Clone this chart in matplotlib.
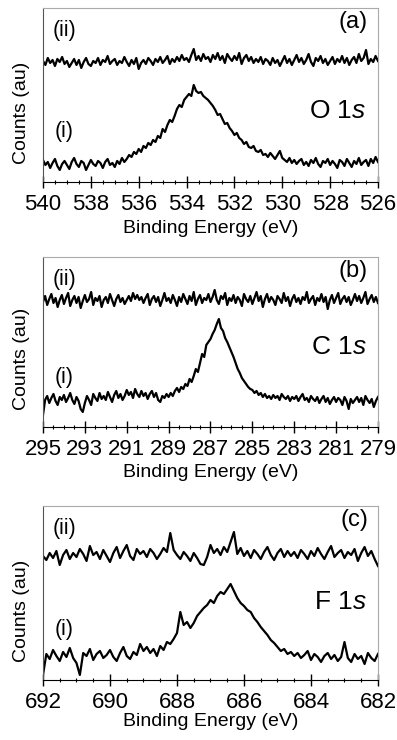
import numpy as np
import matplotlib.pyplot as plt
from matplotlib.ticker import MultipleLocator

plt.rcParams['font.family'] = ['Liberation Sans', 'DejaVu Sans']
plt.rcParams['mathtext.fontset'] = 'custom'
plt.rcParams['mathtext.rm'] = 'Liberation Sans'
plt.rcParams['mathtext.it'] = 'Liberation Sans:italic'

# ---- O 1s : 540 -> 526 eV, 0.1 eV steps (counts, arbitrary units) ----
o1s_range = (540, 526)
o1s_i = [
    22, 17, 20, 14, 19, 23, 16, 12, 18, 21,
    17, 13, 20, 24, 18, 15, 21, 19, 12, 17,
    22, 18, 16, 21, 19, 14, 20, 23, 17, 19,
    15, 21, 18, 24, 20, 23, 27, 25, 30, 28,
    33, 30, 36, 34, 39, 37, 42, 40, 46, 44,
    53, 50, 57, 62, 60, 66, 73, 77, 75, 82,
    85, 88, 86, 97, 91, 89, 90, 86, 84, 82,
    79, 76, 72, 67, 68, 63, 58, 59, 54, 51,
    47, 49, 44, 42, 38, 40, 35, 34, 36, 31,
    30, 32, 27, 28, 25, 29, 26, 23, 27, 31,
    24, 22, 20, 24, 19, 22, 18, 21, 23, 17,
    20, 16, 22, 19, 24, 18, 15, 21, 19, 23,
    17, 21, 18, 14, 22, 20, 16, 23, 19, 15,
    21, 18, 24, 17, 20, 22, 16, 23, 19, 25,
    20]
o1s_ii = [
    121, 117, 124, 119, 122, 116, 123, 120, 125, 118,
    121, 115, 119, 123, 117, 122, 114, 120, 124, 118,
    116, 121, 119, 124, 117, 122, 120, 126, 118, 121,
    123, 117, 121, 119, 125, 120, 116, 122, 118, 124,
    113, 119, 122, 118, 124, 121, 117, 123, 120, 125,
    119, 122, 126, 118, 123, 120, 125, 121, 127, 122,
    124, 120, 127, 133, 122, 126, 121, 128, 123, 125,
    120, 127, 123, 129, 122, 126, 119, 128, 124, 121,
    126, 122, 129, 118, 124, 127, 121, 125, 119, 123,
    120, 125, 118, 123, 121, 117, 124, 119, 122, 116,
    121, 126, 119, 123, 117, 122, 127, 120, 124, 118,
    122, 128, 120, 116, 124, 121, 126, 119, 123, 117,
    121, 125, 118, 123, 120, 126, 119, 124, 117, 122,
    125, 119, 128, 121, 124, 132, 118, 123, 120, 126,
    121]

# ---- C 1s : 295 -> 279 eV ----
c1s_range = (295, 279)
c1s_i = [
    12, 27, 31, 24, 29, 33, 26, 22, 30, 27,
    32, 25, 29, 34, 27, 23, 30, 26, 18, 15,
    24, 31, 27, 22, 33, 29, 26, 34, 28, 31,
    27, 35, 30, 25, 32, 36, 29, 33, 27, 31,
    37, 32, 35, 29, 38, 33, 30, 36, 31, 34,
    28, 33, 36, 30, 34, 27, 25, 31, 29, 33,
    30, 34, 31, 36, 39, 35, 40, 38, 43, 41,
    48, 45, 51, 58, 55, 64, 73, 70, 82, 85,
    88, 93, 97, 103, 108, 99, 96, 89, 85, 80,
    75, 70, 64, 58, 54, 49, 46, 43, 40, 38,
    37, 34, 36, 32, 34, 30, 33, 29, 31, 28,
    32, 29, 31, 27, 33, 30, 28, 31, 26, 30,
    28, 31, 26, 30, 33, 27, 29, 25, 31, 28,
    26, 30, 24, 28, 31, 25, 29, 23, 27, 30,
    25, 29, 27, 22, 30, 26, 18, 28, 24, 27,
    30, 25, 29, 22, 31, 27, 24, 28, 20, 26,
    30]
c1s_ii = [
    125, 131, 122, 128, 133, 124, 129, 120, 127, 132,
    123, 129, 134, 121, 127, 131, 124, 130, 119, 126,
    132, 125, 128, 135, 122, 129, 126, 131, 120, 127,
    130, 124, 133, 127, 121, 128, 132, 125, 129, 123,
    127, 131, 126, 134, 128, 132, 127, 130, 124, 129,
    133, 122, 128, 131, 125, 130, 121, 127, 134, 126,
    129, 124, 132, 127, 121, 130, 125, 133, 128, 123,
    131, 126, 135, 122, 128, 132, 124, 129, 127, 133,
    125, 130, 137, 127, 123, 131, 128, 134, 122, 129,
    126, 132, 124, 130, 127, 121, 133, 128, 125, 131,
    123, 129, 135, 126, 131, 120, 128, 133, 125, 130,
    127, 122, 131, 128, 124, 134, 126, 130, 121, 128,
    132, 125, 129, 123, 130, 127, 135, 124, 128, 131,
    122, 129, 126, 133, 125, 130, 118, 127, 132, 124,
    129, 134, 123, 128, 131, 125, 130, 122, 127, 133,
    126, 131, 124, 129, 135, 123, 128, 132, 125, 130,
    124]

# ---- F 1s : 692 -> 682 eV ----
f1s_range = (692, 682)
f1s_i = [
    5, 26, 21, 30, 24, 19, 28, 23, 32, 22,
    17, 5, 27, 24, 31, 20, 26, 29, 22, 25,
    30, 23, 19, 27, 33, 24, 21, 28, 25, 36,
    29, 33, 27, 31, 24, 34, 30, 38, 36, 41,
    47, 68, 55, 58, 52, 57, 64, 68, 72, 75,
    80, 77, 84, 88, 86, 91, 96, 89, 82, 77,
    74, 70, 68, 62, 58, 53, 49, 45, 40, 37,
    33, 29, 31, 26, 28, 24, 27, 22, 25, 29,
    20, 26, 23, 18, 24, 27, 21, 25, 19, 23,
    38, 22, 18, 26, 21, 24, 16, 27, 22, 19,
    26]
f1s_ii = [
    124, 120, 127, 122, 129, 115, 125, 130, 121, 127,
    123, 131, 126, 119, 134, 125, 128, 121, 130, 124,
    118, 127, 133, 122, 129, 135, 124, 120, 131, 126,
    129, 123, 131, 127, 121, 126, 132, 128, 147, 130,
    125, 121, 128, 124, 119, 127, 122, 116, 115, 123,
    135, 127, 131, 125, 133, 128, 138, 148, 126, 132,
    124, 129, 122, 130, 126, 121, 128, 133, 125, 120,
    127, 131, 123, 129, 124, 128, 122, 130, 126, 121,
    129, 124, 132, 126, 121, 128, 134, 123, 127, 130,
    122, 128, 125, 131, 119, 127, 133, 124, 129, 121,
    114]

panel_tags = ['(a)', '(b)', '(c)']
core_levels = ['O 1$s$', 'C 1$s$', 'F 1$s$']

fig = plt.figure(figsize=(3.97, 7.40), dpi=100)

panels = [
    # range, trace i, trace ii, tag index, [left, bottom, w, h], ymax, level y, xlabel pad
    (o1s_range, o1s_i, o1s_ii, 0, [0.1083, 0.7541, 0.8438, 0.2351], 174, 0.41, 3.0),
    (c1s_range, c1s_i, c1s_ii, 1, [0.1083, 0.4230, 0.8438, 0.2297], 170, 0.47, 2.5),
    (f1s_range, f1s_i, f1s_ii, 2, [0.1083, 0.0811, 0.8438, 0.2351], 174, 0.45, 0.0),
]

for rng, tr_i, tr_ii, k, rect, ymax, lvl_y, lpad in panels:
    ax = fig.add_axes(rect)
    energy = np.linspace(rng[0], rng[1], len(tr_i))
    ax.plot(energy, tr_i, color='black', lw=1.6)
    ax.plot(energy, tr_ii, color='black', lw=1.6)
    ax.set_xlim(rng[0], rng[1])
    ax.set_ylim(0, ymax)
    ax.set_yticks([])
    ax.set_xticks(np.arange(rng[1], rng[0] + 0.1, 2))
    ax.xaxis.set_minor_locator(MultipleLocator(0.5))
    ax.tick_params(axis='x', which='major', direction='inout', length=8,
                   width=1, labelsize=16, pad=5)
    ax.tick_params(axis='x', which='minor', direction='inout', length=3.5, width=0.8)
    ax.spines['bottom'].set_color('black')
    ax.spines['left'].set_color('#555555')
    ax.spines['top'].set_color('#aaaaaa')
    ax.spines['right'].set_color('#aaaaaa')
    ax.set_xlabel('Binding Energy (eV)', fontsize=14, labelpad=lpad)
    ax.set_ylabel('Counts (au)', fontsize=14)
    ax.yaxis.set_label_coords(-0.04, 0.40)

    ax.text(0.03, 0.87, '(ii)', transform=ax.transAxes, fontsize=15.5, va='center')
    ax.text(0.035, 0.29, '(i)', transform=ax.transAxes, fontsize=15.5, va='center')
    ax.text(0.97, 0.92, panel_tags[k], transform=ax.transAxes, fontsize=17,
            ha='right', va='center')
    ax.text(0.965, lvl_y, core_levels[k], transform=ax.transAxes, fontsize=19,
            ha='right', va='center')

fig.savefig('out.png', dpi=100)
